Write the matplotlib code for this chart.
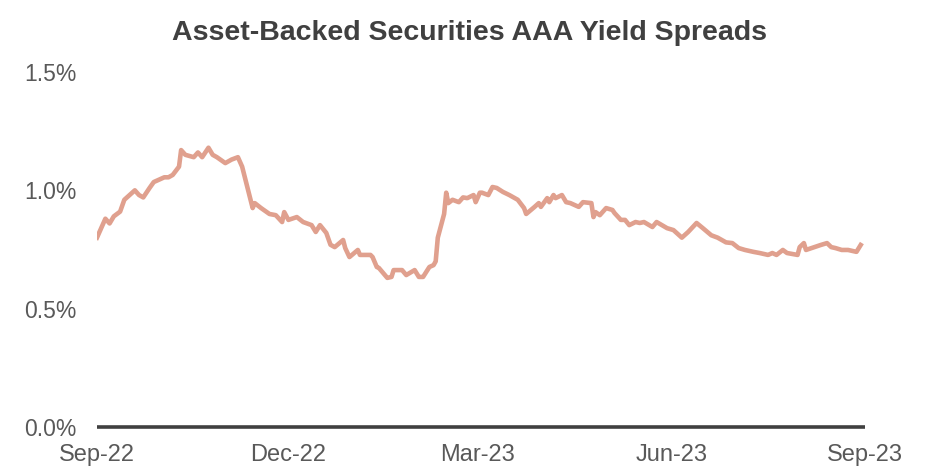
import pandas as pd
import matplotlib.pyplot as plt
import matplotlib.dates as mdates
from matplotlib.ticker import FuncFormatter

plt.rcParams['font.family'] = ['Liberation Sans', 'DejaVu Sans']

# ABS AAA spread, in percent
dates = [
    '2022-09-01', '2022-09-02', '2022-09-05', '2022-09-07', '2022-09-09', '2022-09-12',
    '2022-09-14', '2022-09-19', '2022-09-21', '2022-09-23', '2022-09-26', '2022-09-28',
    '2022-10-03', '2022-10-05', '2022-10-07', '2022-10-10', '2022-10-11', '2022-10-13',
    '2022-10-17', '2022-10-19', '2022-10-21', '2022-10-24', '2022-10-26', '2022-10-28',
    '2022-11-01', '2022-11-04', '2022-11-07', '2022-11-09', '2022-11-11', '2022-11-14',
    '2022-11-15', '2022-11-18', '2022-11-22', '2022-11-25', '2022-11-28', '2022-11-29',
    '2022-12-01', '2022-12-05', '2022-12-08', '2022-12-12', '2022-12-14', '2022-12-16',
    '2022-12-19', '2022-12-21', '2022-12-23', '2022-12-27', '2022-12-28', '2022-12-30',
    '2023-01-03', '2023-01-04', '2023-01-09', '2023-01-10', '2023-01-12', '2023-01-13',
    '2023-01-17', '2023-01-19', '2023-01-20', '2023-01-24', '2023-01-26', '2023-01-30',
    '2023-02-01', '2023-02-03', '2023-02-06', '2023-02-08', '2023-02-09', '2023-02-10',
    '2023-02-13', '2023-02-14', '2023-02-15', '2023-02-17', '2023-02-20', '2023-02-22',
    '2023-02-24', '2023-02-27', '2023-02-28', '2023-03-02', '2023-03-03', '2023-03-06',
    '2023-03-08', '2023-03-10', '2023-03-13', '2023-03-16', '2023-03-20', '2023-03-23',
    '2023-03-24', '2023-03-28', '2023-03-30', '2023-03-31', '2023-04-03', '2023-04-04',
    '2023-04-06', '2023-04-07', '2023-04-10', '2023-04-12', '2023-04-14', '2023-04-18',
    '2023-04-20', '2023-04-24', '2023-04-25', '2023-04-26', '2023-04-28', '2023-05-01',
    '2023-05-04', '2023-05-05', '2023-05-08', '2023-05-10', '2023-05-12', '2023-05-15',
    '2023-05-17', '2023-05-19', '2023-05-23', '2023-05-25', '2023-05-30', '2023-06-02',
    '2023-06-06', '2023-06-09', '2023-06-13', '2023-06-16', '2023-06-20', '2023-06-23',
    '2023-06-27', '2023-06-30', '2023-07-03', '2023-07-06', '2023-07-10', '2023-07-13',
    '2023-07-17', '2023-07-19', '2023-07-21', '2023-07-24', '2023-07-26', '2023-07-31',
    '2023-08-01', '2023-08-03', '2023-08-04', '2023-08-08', '2023-08-11', '2023-08-14',
    '2023-08-16', '2023-08-18', '2023-08-21', '2023-08-24', '2023-08-28', '2023-08-30',
]
spread = [
    0.80, 0.82, 0.88, 0.86, 0.89, 0.91,
    0.96, 1.00, 0.98, 0.97, 1.01, 1.035,
    1.055, 1.055, 1.065, 1.10, 1.17, 1.15,
    1.14, 1.16, 1.14, 1.18, 1.15, 1.14,
    1.115, 1.13, 1.14, 1.10, 1.03, 0.925,
    0.946, 0.925, 0.90, 0.895, 0.866, 0.908,
    0.875, 0.887, 0.866, 0.853, 0.824, 0.853,
    0.82, 0.77, 0.76, 0.79, 0.756, 0.718,
    0.748, 0.727, 0.727, 0.718, 0.676, 0.672,
    0.63, 0.634, 0.663, 0.663, 0.642, 0.663,
    0.634, 0.634, 0.676, 0.684, 0.70, 0.80,
    0.90, 0.99, 0.946, 0.96, 0.95, 0.97,
    0.967, 0.98, 0.95, 0.99, 0.99, 0.98,
    1.014, 1.01, 0.993, 0.98, 0.96, 0.925,
    0.90, 0.93, 0.946, 0.93, 0.967, 0.95,
    0.98, 0.967, 0.98, 0.95, 0.946, 0.93,
    0.95, 0.946, 0.887, 0.908, 0.895, 0.925,
    0.917, 0.904, 0.875, 0.875, 0.853, 0.866,
    0.862, 0.866, 0.845, 0.866, 0.84, 0.832,
    0.80, 0.824, 0.862, 0.84, 0.81, 0.80,
    0.78, 0.777, 0.756, 0.748, 0.74, 0.735,
    0.727, 0.735, 0.727, 0.748, 0.735, 0.727,
    0.76, 0.777, 0.748, 0.76, 0.769, 0.777,
    0.76, 0.756, 0.748, 0.748, 0.74, 0.769,
]
yticks = [0.0, 0.5, 1.0, 1.5]
xticks = ['2022-09-01', '2022-12-01', '2023-03-01', '2023-06-01', '2023-09-01']

x = pd.to_datetime(dates)

fig = plt.figure(figsize=(9.27, 4.69), dpi=100)
ax = fig.add_axes([0.1046, 0.0896, 0.8284, 0.7569])

ax.plot(x, spread, color='#E0A08E', lw=3.3, solid_joinstyle='round')

ax.set_xlim(pd.Timestamp('2022-09-01'), pd.Timestamp('2023-09-01'))
ax.set_ylim(0, 1.5)
ax.set_yticks(yticks)
ax.yaxis.set_major_formatter(FuncFormatter(lambda v, p: f'{v:.1f}%'))
ax.set_xticks(pd.to_datetime(xticks))
ax.xaxis.set_major_formatter(mdates.DateFormatter('%b-%y'))

for s in ['top', 'right', 'left']:
    ax.spines[s].set_visible(False)
ax.spines['bottom'].set_color('#404040')
ax.spines['bottom'].set_linewidth(2.6)
ax.spines['bottom'].set_capstyle('butt')

ax.tick_params(axis='y', length=0, pad=15, labelsize=16.5, labelcolor='#595959')
ax.tick_params(axis='x', length=0, pad=12, labelsize=17, labelcolor='#595959')

fig.text(0.507, 0.93, 'Asset-Backed Securities AAA Yield Spreads',
         ha='center', va='center', fontsize=20.5, fontweight='bold', color='#404040')

fig.savefig('out.png', dpi=100, facecolor='white')
